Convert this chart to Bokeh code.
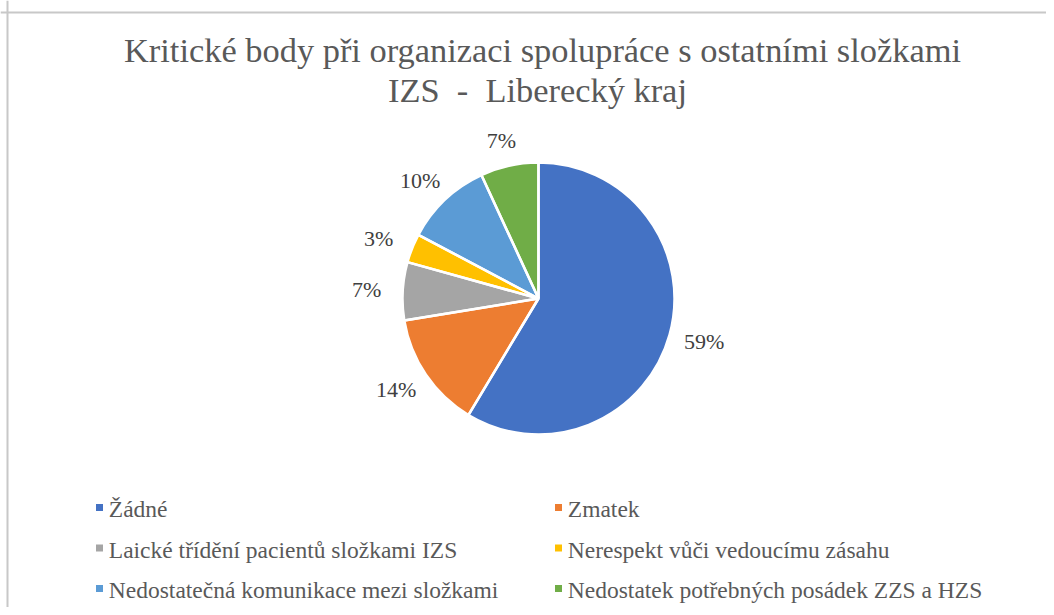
import math
from bokeh.plotting import figure
from bokeh.models import ColumnDataSource, Range1d, Span
from bokeh.core.properties import value
from bokeh.embed import file_html
from bokeh.resources import INLINE

# ---- data ----
categories = ["Žádné", "Zmatek", "Laické třídění pacientů složkami IZS",
              "Nerespekt vůči vedoucímu zásahu",
              "Nedostatečná komunikace mezi složkami",
              "Nedostatek potřebných posádek ZZS a HZS"]
counts = [17, 4, 2, 1, 3, 2]
colors = ["#4472C4", "#ED7D31", "#A5A5A5", "#FFC000", "#5B9BD5", "#70AD47"]
title_lines = ["Kritické body při organizaci spolupráce s ostatními složkami",
               "IZS  -  Liberecký kraj"]

# ---- layout constants ----
W, H = 1046, 607
CX, CY = 538, H - 298
R = 136
LD = 153          # distance of label box from centre
LBW, LBH = 19, 9  # half size of a label box
FONT = "Liberation Serif"
LEG_COL_X = [99, 558]
LEG_ROW_Y = [H - 507, H - 547.5, H - 588]

total = sum(counts)
fracs = [c / total for c in counts]
starts, ends, lx, ly, labels = [], [], [], [], []
cum = 0.0
for f in fracs:
    a0 = math.pi / 2 - 2 * math.pi * cum
    a1 = math.pi / 2 - 2 * math.pi * (cum + f)
    mid = (a0 + a1) / 2
    ux, uy = math.cos(mid), math.sin(mid)
    starts.append(a0)
    ends.append(a1)
    lx.append(CX + LD * ux + LBW * ux)
    ly.append(CY + LD * uy + LBH * uy)
    labels.append(f"{round(f * 100)}%")
    cum += f

src = ColumnDataSource(dict(cat=categories, start=starts, end=ends, color=colors,
                            x=[CX] * len(counts), y=[CY] * len(counts),
                            lx=lx, ly=ly, label=labels))

p = figure(width=W, height=H, output_backend="svg", toolbar_location=None,
           x_range=Range1d(0, W), y_range=Range1d(0, H),
           x_axis_location=None, y_axis_location=None, min_border=0)
p.grid.visible = False
p.outline_line_color = None
p.background_fill_color = "white"
p.border_fill_color = "white"

# chart border (top and left visible)
p.add_layout(Span(location=H - 12, dimension="width", line_color="#C8C8C8", line_width=2))
p.add_layout(Span(location=7, dimension="height", line_color="#C8C8C8", line_width=2))

p.wedge(x="x", y="y", radius=R, radius_units="screen",
        start_angle="start", end_angle="end", direction="clock",
        fill_color="color", line_color=None, source=src)
p.wedge(x="x", y="y", radius=R, radius_units="screen",
        start_angle="start", end_angle="end", direction="clock",
        fill_color=None, line_color="white", line_width=2.5, source=src)

p.text(x="lx", y="ly", text="label", source=src, text_font=value(FONT),
       text_font_size="22px", text_color="#404040", text_align="center",
       text_baseline="middle")

# title
tsrc = ColumnDataSource(dict(x=[542, 537], y=[H - 49.5, H - 89.5],
                             t=[s.replace("  ", " \u00a0") for s in title_lines]))
p.text(x="x", y="y", text="t", source=tsrc, text_font=value(FONT),
       text_font_size="34.4px", text_color="#595959", text_align="center",
       text_baseline="middle")

# legend (two columns, three rows)
mx, my, tx, ty = [], [], [], []
for i in range(len(categories)):
    col, row = i % 2, i // 2
    mx.append(LEG_COL_X[col])
    my.append(LEG_ROW_Y[row])
    tx.append(LEG_COL_X[col] + 9.3)
    ty.append(LEG_ROW_Y[row] - 1.5)
lsrc = ColumnDataSource(dict(mx=mx, my=my, tx=tx, ty=ty, cat=categories, color=colors))
p.rect(x="mx", y="my", width=7, height=7, width_units="screen", height_units="screen",
       fill_color="color", line_color=None, source=lsrc)
p.text(x="tx", y="ty", text="cat", source=lsrc, text_font=value(FONT),
       text_font_size="23.5px", text_color="#595959", text_align="left",
       text_baseline="middle")

open("out.html", "w").write(file_html(p, INLINE))
